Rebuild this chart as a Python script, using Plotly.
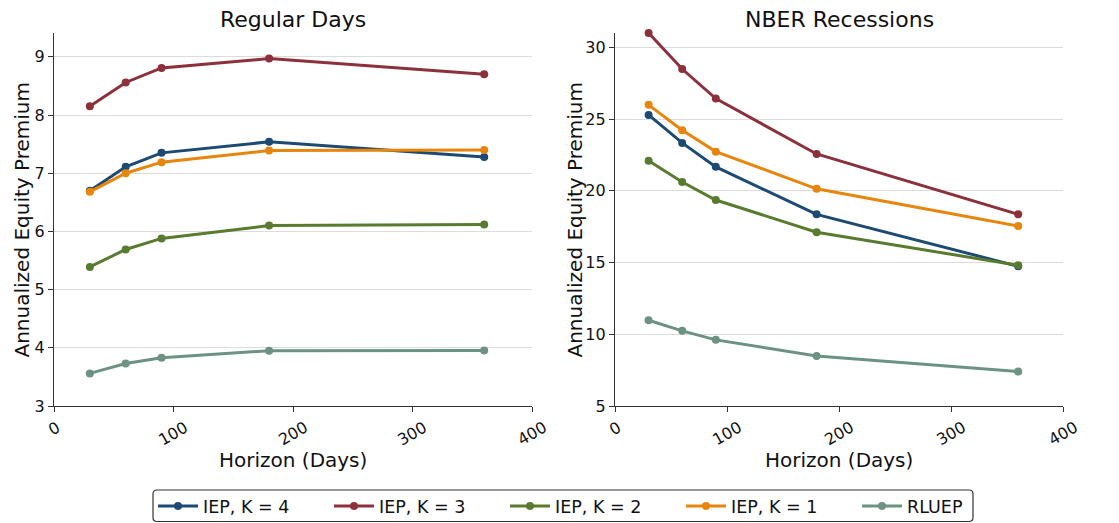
import plotly.graph_objects as go

horizon = [30, 60, 90, 180, 360]
x_ticks = [0, 100, 200, 300, 400]
regular_y_ticks = [3, 4, 5, 6, 7, 8, 9]
nber_y_ticks = [5, 10, 15, 20, 25, 30]
series_names = ["IEP, K = 4", "IEP, K = 3", "IEP, K = 2", "IEP, K = 1", "RLUEP"]
colors = ["#1c4a73", "#8c303c", "#587b30", "#e8850c", "#6b9282"]

regular_k4 = [6.70, 7.11, 7.35, 7.54, 7.28]
regular_k3 = [8.15, 8.56, 8.81, 8.97, 8.70]
regular_k2 = [5.39, 5.69, 5.88, 6.10, 6.12]
regular_k1 = [6.68, 7.00, 7.19, 7.39, 7.40]
regular_rluep = [3.56, 3.73, 3.83, 3.95, 3.955]

nber_k4 = [25.29, 23.34, 21.67, 18.36, 14.74]
nber_k3 = [31.0, 28.49, 26.43, 22.57, 18.36]
nber_k2 = [22.10, 20.61, 19.36, 17.11, 14.81]
nber_k1 = [25.99, 24.22, 22.73, 20.14, 17.55]
nber_rluep = [10.98, 10.24, 9.61, 8.49, 7.40]

regular = [regular_k4, regular_k3, regular_k2, regular_k1, regular_rluep]
nber = [nber_k4, nber_k3, nber_k2, nber_k1, nber_rluep]

FONT = "DejaVu Sans"
W, H = 1119, 523
L, R, T, B = 54, 1119 - 1063, 33, 523 - 406
PW, PH = W - L - R, H - T - B


def px(p):
    return (p - L) / PW


def py(p):
    return (H - B - p) / PH


fig = go.Figure()
for name, col, ys in zip(series_names, colors, regular):
    fig.add_trace(go.Scatter(x=horizon, y=ys, mode="lines+markers", name=name,
                             line=dict(color=col, width=3), marker=dict(color=col, size=8),
                             xaxis="x", yaxis="y", legendgroup=name, cliponaxis=False))
for name, col, ys in zip(series_names, colors, nber):
    fig.add_trace(go.Scatter(x=horizon, y=ys, mode="lines+markers", name=name,
                             line=dict(color=col, width=3), marker=dict(color=col, size=8),
                             xaxis="x2", yaxis="y2", legendgroup=name, showlegend=False,
                             cliponaxis=False))

axis_common = dict(showline=True, linecolor="#333333", linewidth=1.2, ticks="outside",
                   ticklen=5, tickcolor="#333333", tickfont=dict(family=FONT, size=16, color="#111"),
                   zeroline=False, mirror=False, automargin=False)

annotations = []
for xr, ticks in (("x", x_ticks), ("x2", x_ticks)):
    for t in ticks:
        annotations.append(dict(text=str(t), x=t, xref=xr, y=py(415), yref="paper",
                                xanchor="center", yanchor="top", textangle=-30, showarrow=False,
                                font=dict(family=FONT, size=16, color="#111")))

for cx, txt in (((54 + 532) / 2, "Regular Days"), ((615 + 1063) / 2, "NBER Recessions")):
    annotations.append(dict(text=txt, x=px(cx), y=py(20), xref="paper", yref="paper",
                            showarrow=False, font=dict(family=FONT, size=22, color="#111"),
                            xanchor="center", yanchor="middle"))
    annotations.append(dict(text="Horizon (Days)", x=px(cx), y=py(460), xref="paper", yref="paper",
                            showarrow=False, font=dict(family=FONT, size=20, color="#111"),
                            xanchor="center", yanchor="middle"))
for cx in (21, 574):
    annotations.append(dict(text="Annualized Equity Premium", x=px(cx), y=py(219.5), xref="paper",
                            yref="paper", showarrow=False, textangle=-90,
                            font=dict(family=FONT, size=20, color="#111"),
                            xanchor="center", yanchor="middle"))

# rounded legend frame
x0, x1, y0, y1, r = 153, 973, 490, 521.5, 4


def P(a, b):
    return f"{px(a):.5f},{py(b):.5f}"


frame_path = (f"M {P(x0 + r, y0)} L {P(x1 - r, y0)} Q {P(x1, y0)} {P(x1, y0 + r)} "
              f"L {P(x1, y1 - r)} Q {P(x1, y1)} {P(x1 - r, y1)} L {P(x0 + r, y1)} "
              f"Q {P(x0, y1)} {P(x0, y1 - r)} L {P(x0, y0 + r)} Q {P(x0, y0)} {P(x0 + r, y0)} Z")

fig.update_layout(
    width=W, height=H,
    margin=dict(l=L, r=R, t=T, b=B, autoexpand=False),
    paper_bgcolor="white", plot_bgcolor="white",
    font=dict(family=FONT, color="#111"),
    xaxis=dict(domain=[0, px(532)], range=[0, 400], tickvals=x_ticks, showticklabels=False,
               showgrid=False, anchor="y", **axis_common),
    yaxis=dict(domain=[0, 1], range=[3, 9.41], tickvals=regular_y_ticks, anchor="x",
               showgrid=True, gridcolor="#dcdcdc", gridwidth=1, **axis_common),
    xaxis2=dict(domain=[px(615), 1], range=[0, 400], tickvals=x_ticks, showticklabels=False,
                showgrid=False, anchor="y2", **axis_common),
    yaxis2=dict(domain=[0, 1], range=[5, 31.0], tickvals=nber_y_ticks, anchor="x2",
                showgrid=True, gridcolor="#dcdcdc", gridwidth=1, **axis_common),
    legend=dict(orientation="h", x=px(153), xanchor="left", y=py(506), yanchor="middle",
                borderwidth=0, bgcolor="rgba(0,0,0,0)",
                font=dict(family=FONT, size=17.5, color="#111"), itemwidth=40, entrywidth=121,
                entrywidthmode="pixels"),
    shapes=[dict(type="path", path=frame_path, xref="paper", yref="paper",
                 line=dict(color="#333333", width=1.2), fillcolor="rgba(0,0,0,0)")],
    annotations=annotations,
)

fig.write_html("out.html")
